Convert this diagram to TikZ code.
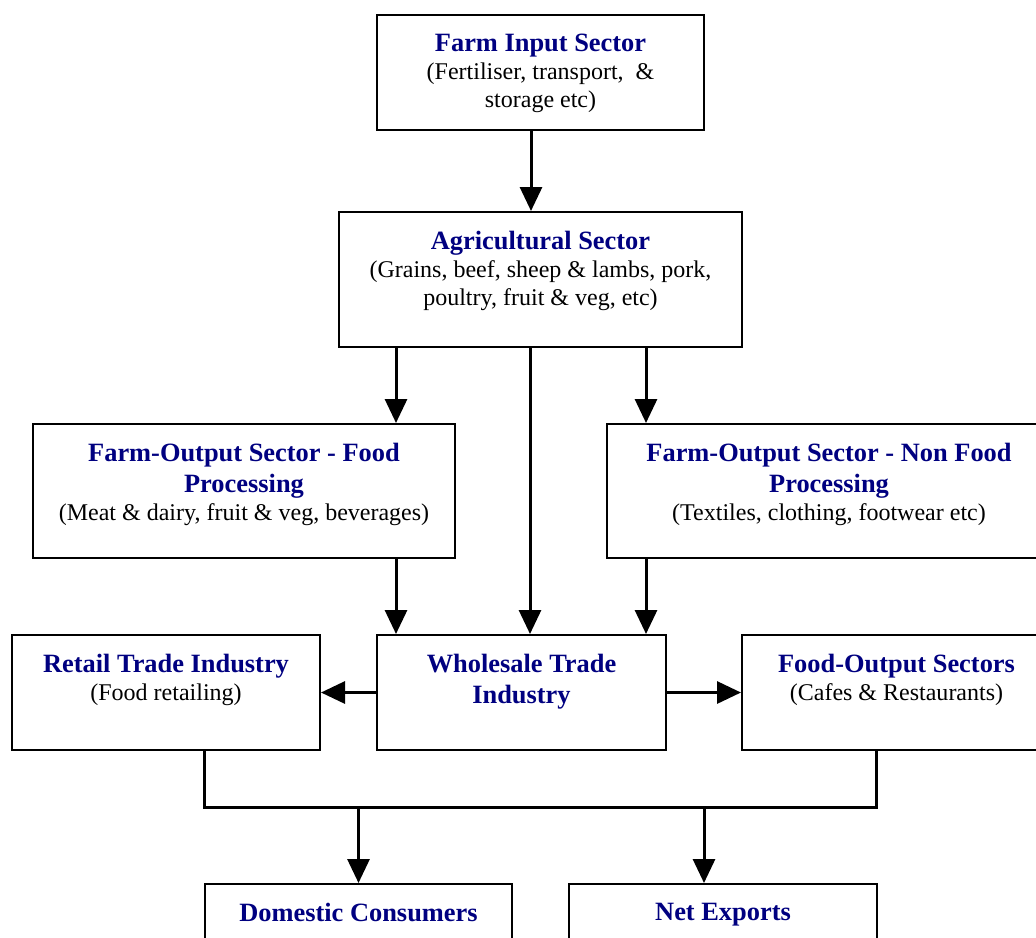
\documentclass[tikz,border=0pt]{standalone}
\usepackage{fontspec}
\setmainfont{Liberation Serif}
\usetikzlibrary{arrows.meta}
\definecolor{titleblue}{RGB}{0,0,128}
\newcommand{\ttl}[1]{{\fontsize{13.2}{15.5}\selectfont\color{titleblue}\bfseries #1}}
\tikzset{
  sector/.style={draw, line width=1pt, inner sep=0pt},
  info/.style={anchor=north, yshift=-9.8pt, align=center, inner sep=0pt,
    font=\fontsize{12}{14}\selectfont},
  flow/.style={line width=1.5pt, -{Triangle[length=12pt,width=11pt]}},
  link/.style={line width=1.5pt}
}
\begin{document}
\begin{tikzpicture}[x=0.5pt,y=-0.5pt]
	\useasboundingbox (0,0) rectangle (1036,937);
	\clip (0,0) rectangle (1036,937);
	% boxes
	\node[sector, minimum width=163.5pt, minimum height=57.5pt] (input) at (540.5,72.5) {};
	\node[sector, minimum width=201.5pt, minimum height=67.5pt] (agr) at (540.5,279.5) {};
	\node[sector, minimum width=211pt, minimum height=67pt] (fproc) at (244,491) {};
	\node[sector, minimum width=222pt, minimum height=67pt] (nfproc) at (829,491) {};
	\node[sector, minimum width=154pt, minimum height=57.5pt] (retail) at (166,692.5) {};
	\node[sector, minimum width=144.5pt, minimum height=57.5pt] (whole) at (521.5,692.5) {};
	\node[sector, minimum width=154.5pt, minimum height=57.5pt] (fout) at (896.5,692.5) {};
	\node[sector, minimum width=153.5pt, minimum height=57.5pt] (dom) at (358.5,941.5) {};
	\node[sector, minimum width=154pt, minimum height=57.5pt] (net) at (723,941.5) {};
	% texts
	\node[info] (inputtxt) at (input.north) {\ttl{Farm Input Sector}\\(Fertiliser, transport,\ \ \&\\storage etc)};
	\node[info] (agrtxt) at (agr.north) {\ttl{Agricultural Sector}\\(Grains, beef, sheep \& lambs, pork,\\poultry, fruit \& veg, etc)};
	\node[info] (fproctxt) at (fproc.north) {\ttl{Farm-Output Sector - Food}\\[1.5pt]\ttl{Processing}\\(Meat \& dairy, fruit \& veg, beverages)};
	\node[info] (nfproctxt) at (nfproc.north) {\ttl{Farm-Output Sector - Non Food}\\[1.5pt]\ttl{Processing}\\(Textiles, clothing, footwear etc)};
	\node[info] (retailtxt) at (retail.north) {\ttl{Retail Trade Industry}\\(Food retailing)};
	\node[info] (wholetxt) at (whole.north) {\ttl{Wholesale Trade}\\[1.5pt]\ttl{Industry}};
	\node[info] (fouttxt) at (fout.north) {\ttl{Food-Output Sectors}\\(Cafes \& Restaurants)};
	\node[info] (domtxt) at (dom.north) {\ttl{Domestic Consumers}};
	\node[info] (nettxt) at (net.north) {\ttl{Net Exports}};
	% connectors
	\draw[flow] ([xshift=-4.75pt]input.south) -- ([xshift=-4.75pt]agr.north);
	\draw[flow] ([xshift=29pt]agr.south west) coordinate (a1) -- (a1 |- fproc.north);
	\draw[flow] ([xshift=96pt]agr.south west) coordinate (a2) -- (a2 |- whole.north);
	\draw[flow] ([xshift=154pt]agr.south west) coordinate (a3) -- (a3 |- nfproc.north);
	\draw[flow] ([xshift=182pt]fproc.south west) coordinate (f1) -- (f1 |- whole.north);
	\draw[flow] ([xshift=20pt]nfproc.south west) coordinate (n1) -- (n1 |- whole.north);
	\draw[flow] (whole.west) -- (retail.east);
	\draw[flow] (whole.east) -- (fout.east -| fout.west);
	\coordinate (r1) at ([xshift=96.5pt]retail.south west);
	\coordinate (o1) at ([xshift=67.5pt]fout.south west);
	\draw[link] (r1) -- (r1 |- 0,807) -- (o1 |- 0,807) -- (o1);
	\draw[flow] (dom.north |- 0,807) -- (dom.north);
	\draw[flow] (704,807) coordinate (e1) -- (e1 |- net.north);
\end{tikzpicture}
\end{document}
